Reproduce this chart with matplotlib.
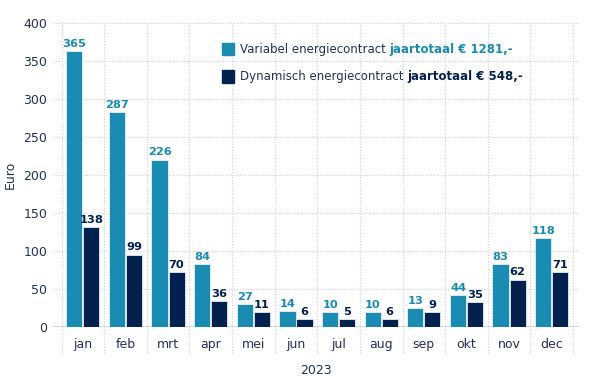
import matplotlib
matplotlib.use("Agg")
import matplotlib.pyplot as plt
import matplotlib.transforms as mtransforms
import numpy as np

months = ["jan", "feb", "mrt", "apr", "mei", "jun", "jul", "aug", "sep", "okt", "nov", "dec"]
# values printed above the bars
variabel_labels = [365, 287, 226, 84, 27, 14, 10, 10, 13, 44, 83, 118]
dynamisch_labels = [138, 99, 70, 36, 11, 6, 5, 6, 9, 35, 62, 71]
# bar heights as drawn in the picture
variabel_heights = [363, 282, 220, 82, 30, 21, 19, 19, 24, 42, 82, 117]
dynamisch_heights = [131, 95, 72, 34, 19, 10, 10, 10, 19, 32, 62, 72]
yticks = [0, 50, 100, 150, 200, 250, 300, 350, 400]
xlabel = "2023"
ylabel = "Euro"
legend_rows = [("Variabel energiecontract ", "jaartotaal € 1281,-"),
               ("Dynamisch energiecontract ", "jaartotaal € 548,-")]

TEAL = "#1a8bb1"
NAVY = "#03214e"
TEXT = "#22325a"
GRID = "#cdd1dc"

plt.rcParams['font.family'] = ['DejaVu Sans']

fig = plt.figure(figsize=(6.11, 3.82), dpi=100)
W, H = 611, 382
ax = fig.add_axes([53 / W, (H - 326.7) / H, (579 - 53) / W, (326.7 - 22.7) / H])

x = np.arange(len(months))
bw = 0.38
ax.bar(x - 0.2, variabel_heights, width=bw, color=TEAL, edgecolor="#e8f0f5", linewidth=0.6, zorder=3)
ax.bar(x + 0.2, dynamisch_heights, width=bw, color=NAVY, edgecolor="#e8ecf2", linewidth=0.6, zorder=3)

for xi, h, lab in zip(x, variabel_heights, variabel_labels):
    ax.annotate(str(lab), (xi - 0.2, h), xytext=(0, 1.5), textcoords="offset points",
                ha="center", va="bottom", fontsize=8.2, fontweight="bold", color=TEAL, zorder=4)
for xi, h, lab in zip(x, dynamisch_heights, dynamisch_labels):
    ax.annotate(str(lab), (xi + 0.2, h), xytext=(0, 1.5), textcoords="offset points",
                ha="center", va="bottom", fontsize=8.2, fontweight="bold", color=NAVY, zorder=4)

ax.set_xlim(-0.5 - 0.2, 11.5 + 0.14)
ax.set_ylim(0, 400)
ax.set_yticks(yticks)
ax.set_xticks(x)
ax.set_xticklabels(months)
ax.tick_params(axis="both", length=0, colors=TEXT, labelsize=9)
ax.tick_params(axis="y", pad=4)
ax.tick_params(axis="x", pad=8)
for s in ax.spines.values():
    s.set_visible(False)

for yv in yticks[1:]:
    ax.axhline(yv, color=GRID, linestyle=(0, (1, 1.5)), linewidth=0.8, zorder=1)
ax.axhline(0, color="#c9ced8", linewidth=1.2, zorder=2)

trans = mtransforms.blended_transform_factory(ax.transData, ax.transAxes)
for b in np.arange(-0.5, 12.0, 1.0):
    ax.plot([b, b], [-0.087, 1.0], transform=trans, color=GRID, linestyle=(0, (1, 1.5)),
            linewidth=0.8, clip_on=False, zorder=1)

fig.text((53 + 579) / 2 / W, 1 - 370.5 / H, xlabel, ha="center", va="center", fontsize=9, color=TEXT)
fig.text(10 / W, 1 - 175 / H, ylabel, ha="center", va="center", rotation=90, fontsize=9, color=TEXT)

# legend
for i, ((normal, bold), col) in enumerate(zip(legend_rows, [TEAL, NAVY])):
    yc = 49 + i * 27.5
    fig.patches.append(plt.Rectangle((222 / W, 1 - (yc + 6) / H), 11.5 / W, 12 / H,
                                     transform=fig.transFigure, color=col, figure=fig))
    t1 = fig.text(240 / W, 1 - yc / H, normal, ha="left", va="center", fontsize=8.5, color=TEXT)
    bold_col = TEAL if i == 0 else NAVY
    ax.annotate(bold, xy=(1, 0.5), xycoords=t1, ha="left", va="center", fontsize=8.5,
                fontweight="bold", color=bold_col, annotation_clip=False)

fig.savefig("out.png", dpi=100)
